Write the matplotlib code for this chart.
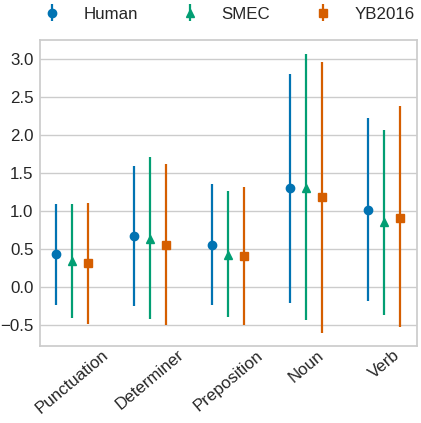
import numpy as np
import matplotlib
matplotlib.use("Agg")
import matplotlib.pyplot as plt
import seaborn as sns

categories = ["Punctuation", "Determiner", "Preposition", "Noun", "Verb"]
series = ["Human", "SMEC", "YB2016"]

human_mean = [0.43, 0.67, 0.56, 1.30, 1.01]
human_low = [-0.23, -0.25, -0.24, -0.21, -0.19]
human_high = [1.09, 1.59, 1.36, 2.81, 2.23]

smec_mean = [0.34, 0.63, 0.42, 1.31, 0.85]
smec_low = [-0.41, -0.42, -0.40, -0.43, -0.37]
smec_high = [1.10, 1.71, 1.27, 3.07, 2.07]

yb_mean = [0.32, 0.56, 0.41, 1.19, 0.91]
yb_low = [-0.48, -0.50, -0.50, -0.60, -0.53]
yb_high = [1.11, 1.62, 1.32, 2.96, 2.38]

sns.set_theme(style="whitegrid")
plt.rcParams['font.family'] = ['Liberation Sans', 'DejaVu Sans']

colors = ["#0173b2", "#029e73", "#d55e00"]
markers = ["o", "^", "s"]
data = [(human_mean, human_low, human_high),
        (smec_mean, smec_low, smec_high),
        (yb_mean, yb_low, yb_high)]

FS = 12.2
fig = plt.figure(figsize=(4.21, 4.23), dpi=100)
ax = fig.add_axes([0.095, 0.182, 0.895, 0.723])

x = np.arange(len(categories))
offsets = [-0.2, 0.0, 0.2]
handles = []
for name, (m, lo, hi), c, mk, off in zip(series, data, colors, markers, offsets):
    m = np.array(m); lo = np.array(lo); hi = np.array(hi)
    h = ax.errorbar(x + off, m, yerr=[m - lo, hi - m], fmt=mk, color=c,
                    ecolor=c, elinewidth=1.6, markersize=6, capsize=0,
                    linestyle='none', label=name)
    handles.append(h)

ax.set_xticks(x)
ax.set_xticklabels(categories, rotation=40, ha='center', fontsize=FS)
ax.tick_params(axis='y', labelsize=FS, length=2.2, width=0.8, color='#cccccc', pad=2.4)
ax.tick_params(axis='x', pad=1, length=0)
ax.set_xlim(-0.41, 4.42)
ax.set_ylim(-0.776, 3.25)
ax.set_yticks(np.arange(-0.5, 3.01, 0.5))
ax.xaxis.grid(False)
for s in ax.spines.values():
    s.set_color('#cccccc')

ax.legend(handles=handles, labels=series, loc='center', bbox_to_anchor=(0.49, 1.085),
          ncol=3, frameon=False, fontsize=FS, columnspacing=2.1,
          handletextpad=0.85, handlelength=2.0)

fig.savefig("out.png", dpi=100)
